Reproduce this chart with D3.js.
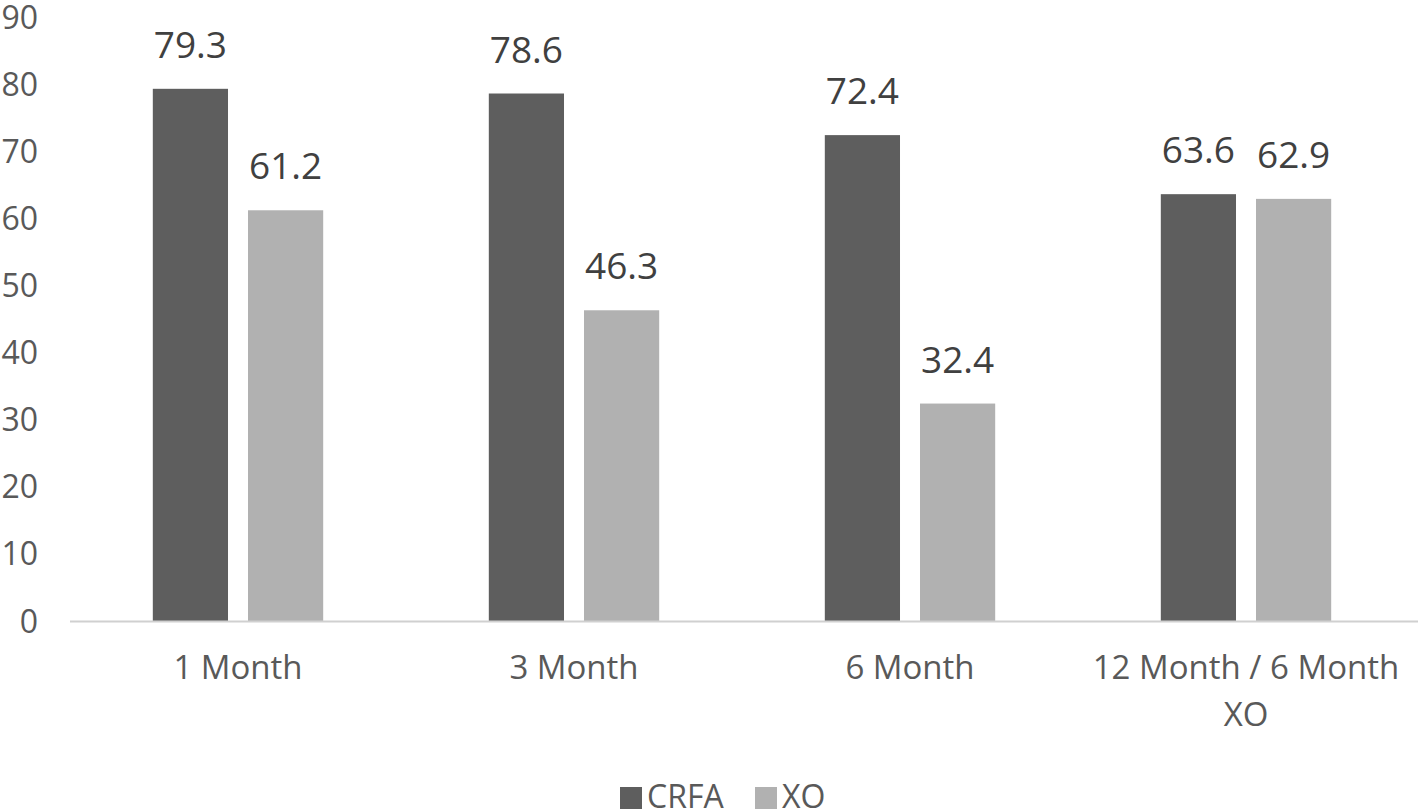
<!DOCTYPE html>
<html><head><meta charset="utf-8">
<script src="https://cdn.jsdelivr.net/npm/d3@7"></script>
<style>body{margin:0;background:#fff;} svg{display:block;font-family:"Open Sans","Noto Sans",sans-serif;}</style>
</head><body>
<svg id="c" width="1418" height="810"></svg>
<script>
const categories = ["1 Month", "3 Month", "6 Month", "12 Month / 6 Month XO"];
const categoryLines = [["1 Month"], ["3 Month"], ["6 Month"], ["12 Month / 6 Month", "XO"]];
const seriesNames = ["CRFA", "XO"];
const crfa = [79.3, 78.6, 72.4, 63.6];
const xo = [61.2, 46.3, 32.4, 62.9];
const yTicks = [0, 10, 20, 30, 40, 50, 60, 70, 80, 90];
const colors = ["#5e5e5e", "#b1b1b1"];

(function(){
const svg = d3.select("#c");
const mLeft = 70, mRight = 1414, mTop = 17, mBottom = 621;
const x = d3.scaleBand().domain(categories).range([mLeft, mRight]).paddingInner(0).paddingOuter(0);
const y = d3.scaleLinear().domain([0, 90]).range([mBottom, mTop]);
const xs = d3.scaleBand().domain(seriesNames).range([0, x.bandwidth()]).paddingInner(0.21).paddingOuter(0.87);

// y tick labels
svg.append("g").selectAll("text").data(yTicks).join("text")
  .attr("x", 38).attr("y", d => y(d)).attr("dy", "0.36em")
  .attr("text-anchor", "end").attr("font-size", 32).attr("fill", "#595959")
  .text(d => d);

// bars
const series = [crfa, xo];
series.forEach((vals, si) => {
  const g = svg.append("g");
  g.selectAll("rect").data(vals).join("rect")
    .attr("x", (d, i) => x(categories[i]) + xs(seriesNames[si]))
    .attr("y", d => y(d)).attr("width", xs.bandwidth()).attr("height", d => y(0) - y(d))
    .attr("fill", colors[si]);
  g.selectAll("text").data(vals).join("text")
    .attr("x", (d, i) => x(categories[i]) + xs(seriesNames[si]) + xs.bandwidth() / 2)
    .attr("y", d => y(d) - 31)
    .attr("text-anchor", "middle").attr("font-size", 37).attr("fill", "#404040")
    .text(d => d.toFixed(1));
});

// x axis line
svg.append("line").attr("x1", mLeft).attr("x2", mRight + 4).attr("y1", y(0) + 0.5).attr("y2", y(0) + 0.5)
  .attr("stroke", "#d0d0d0").attr("stroke-width", 2);

// category labels
const cl = svg.append("g").selectAll("text").data(categories).join("text")
  .attr("x", d => x(d) + x.bandwidth() / 2).attr("y", 679)
  .attr("text-anchor", "middle").attr("font-size", 33).attr("fill", "#595959");
cl.selectAll("tspan").data((d, i) => categoryLines[i]).join("tspan")
  .attr("x", function() { return d3.select(this.parentNode).attr("x"); })
  .attr("dy", (d, j) => j === 0 ? 0 : 47)
  .text(d => d);

// legend
const legend = svg.append("g");
const lx = [620, 755];
seriesNames.forEach((s, i) => {
  legend.append("rect").attr("x", lx[i]).attr("y", 787).attr("width", 22).attr("height", 22).attr("fill", colors[i]);
  legend.append("text").attr("x", lx[i] + 27).attr("y", 808).attr("font-size", 32).attr("fill", "#595959").text(s);
});
})();
</script>
</body></html>
